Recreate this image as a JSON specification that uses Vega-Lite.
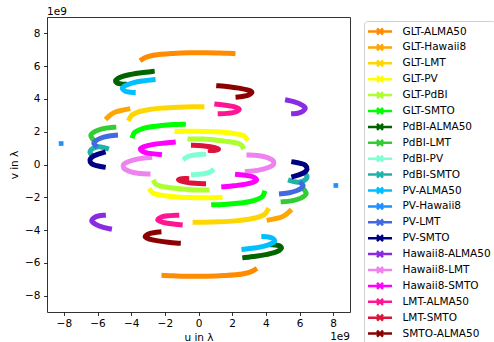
{
"$schema":"https://vega.github.io/schema/vega-lite/v6.json",
"width":303,"height":295,
"autosize":{"type":"none"},
"padding":{"left":47,"top":17,"right":144,"bottom":30},
"background":"white",
"config":{"font":"DejaVu Sans","view":{"stroke":"#333","strokeWidth":1},
 "axis":{"grid":false,"domain":false,"tickColor":"#000","tickSize":3.5,"tickWidth":0.8,"labelFontSize":10.5,"labelColor":"#000","titleFontSize":10.5,"titleFontWeight":"normal","titleColor":"#000","labelFont":"DejaVu Sans","titleFont":"DejaVu Sans","labelOverlap":false,"labelFlush":false}},
"datasets":{"uv":[
{"p":"GLT-ALMA50","s":"a","i":0,"u":-3.35,"v":6.42},{"p":"GLT-ALMA50","s":"a","i":1,"u":-3.1,"v":6.55},{"p":"GLT-ALMA50","s":"a","i":2,"u":-2.6,"v":6.68},{"p":"GLT-ALMA50","s":"a","i":3,"u":-1.5,"v":6.78},{"p":"GLT-ALMA50","s":"a","i":4,"u":-0.5,"v":6.82},{"p":"GLT-ALMA50","s":"a","i":5,"u":0.5,"v":6.82},{"p":"GLT-ALMA50","s":"a","i":6,"u":1.5,"v":6.79},{"p":"GLT-ALMA50","s":"a","i":7,"u":2.05,"v":6.77},
{"p":"GLT-ALMA50","s":"b","i":0,"u":3.35,"v":-6.42},{"p":"GLT-ALMA50","s":"b","i":1,"u":3.1,"v":-6.55},{"p":"GLT-ALMA50","s":"b","i":2,"u":2.6,"v":-6.68},{"p":"GLT-ALMA50","s":"b","i":3,"u":1.5,"v":-6.78},{"p":"GLT-ALMA50","s":"b","i":4,"u":0.5,"v":-6.82},{"p":"GLT-ALMA50","s":"b","i":5,"u":-0.5,"v":-6.82},{"p":"GLT-ALMA50","s":"b","i":6,"u":-1.5,"v":-6.79},{"p":"GLT-ALMA50","s":"b","i":7,"u":-2.05,"v":-6.77},
{"p":"GLT-Hawaii8","s":"a","i":0,"u":-5.42,"v":2.85},{"p":"GLT-Hawaii8","s":"a","i":1,"u":-5.2,"v":3.05},{"p":"GLT-Hawaii8","s":"a","i":2,"u":-4.9,"v":3.22},{"p":"GLT-Hawaii8","s":"a","i":3,"u":-4.5,"v":3.32},{"p":"GLT-Hawaii8","s":"a","i":4,"u":-4.2,"v":3.38},
{"p":"GLT-Hawaii8","s":"b","i":0,"u":5.42,"v":-2.85},{"p":"GLT-Hawaii8","s":"b","i":1,"u":5.2,"v":-3.05},{"p":"GLT-Hawaii8","s":"b","i":2,"u":4.9,"v":-3.22},{"p":"GLT-Hawaii8","s":"b","i":3,"u":4.5,"v":-3.32},{"p":"GLT-Hawaii8","s":"b","i":4,"u":4.2,"v":-3.38},
{"p":"GLT-LMT","s":"a","i":0,"u":-4.1,"v":2.8},{"p":"GLT-LMT","s":"a","i":1,"u":-3.95,"v":3.02},{"p":"GLT-LMT","s":"a","i":2,"u":-3.6,"v":3.2},{"p":"GLT-LMT","s":"a","i":3,"u":-3.0,"v":3.34},{"p":"GLT-LMT","s":"a","i":4,"u":-2.2,"v":3.44},{"p":"GLT-LMT","s":"a","i":5,"u":-1.2,"v":3.5},{"p":"GLT-LMT","s":"a","i":6,"u":-0.3,"v":3.52},{"p":"GLT-LMT","s":"a","i":7,"u":0.2,"v":3.52},
{"p":"GLT-LMT","s":"b","i":0,"u":4.1,"v":-2.8},{"p":"GLT-LMT","s":"b","i":1,"u":3.95,"v":-3.02},{"p":"GLT-LMT","s":"b","i":2,"u":3.6,"v":-3.2},{"p":"GLT-LMT","s":"b","i":3,"u":3.0,"v":-3.34},{"p":"GLT-LMT","s":"b","i":4,"u":2.2,"v":-3.44},{"p":"GLT-LMT","s":"b","i":5,"u":1.2,"v":-3.5},{"p":"GLT-LMT","s":"b","i":6,"u":0.3,"v":-3.52},{"p":"GLT-LMT","s":"b","i":7,"u":-0.2,"v":-3.52},
{"p":"GLT-PV","s":"a","i":0,"u":-1.28,"v":2.02},{"p":"GLT-PV","s":"a","i":1,"u":-0.5,"v":2.03},{"p":"GLT-PV","s":"a","i":2,"u":0.5,"v":2.02},{"p":"GLT-PV","s":"a","i":3,"u":1.3,"v":1.98},{"p":"GLT-PV","s":"a","i":4,"u":1.9,"v":1.92},{"p":"GLT-PV","s":"a","i":5,"u":2.4,"v":1.84},{"p":"GLT-PV","s":"a","i":6,"u":2.7,"v":1.74},{"p":"GLT-PV","s":"a","i":7,"u":2.85,"v":1.58},
{"p":"GLT-PV","s":"b","i":0,"u":1.28,"v":-2.02},{"p":"GLT-PV","s":"b","i":1,"u":0.5,"v":-2.03},{"p":"GLT-PV","s":"b","i":2,"u":-0.5,"v":-2.02},{"p":"GLT-PV","s":"b","i":3,"u":-1.3,"v":-1.98},{"p":"GLT-PV","s":"b","i":4,"u":-1.9,"v":-1.92},{"p":"GLT-PV","s":"b","i":5,"u":-2.4,"v":-1.84},{"p":"GLT-PV","s":"b","i":6,"u":-2.7,"v":-1.74},{"p":"GLT-PV","s":"b","i":7,"u":-2.85,"v":-1.58},
{"p":"GLT-PdBI","s":"a","i":0,"u":-0.5,"v":1.56},{"p":"GLT-PdBI","s":"a","i":1,"u":0.3,"v":1.55},{"p":"GLT-PdBI","s":"a","i":2,"u":1.1,"v":1.48},{"p":"GLT-PdBI","s":"a","i":3,"u":1.8,"v":1.4},{"p":"GLT-PdBI","s":"a","i":4,"u":2.3,"v":1.3},{"p":"GLT-PdBI","s":"a","i":5,"u":2.55,"v":1.18},{"p":"GLT-PdBI","s":"a","i":6,"u":2.62,"v":1.08},
{"p":"GLT-PdBI","s":"b","i":0,"u":0.5,"v":-1.56},{"p":"GLT-PdBI","s":"b","i":1,"u":-0.3,"v":-1.55},{"p":"GLT-PdBI","s":"b","i":2,"u":-1.1,"v":-1.48},{"p":"GLT-PdBI","s":"b","i":3,"u":-1.8,"v":-1.4},{"p":"GLT-PdBI","s":"b","i":4,"u":-2.3,"v":-1.3},{"p":"GLT-PdBI","s":"b","i":5,"u":-2.55,"v":-1.18},{"p":"GLT-PdBI","s":"b","i":6,"u":-2.62,"v":-1.08},
{"p":"GLT-SMTO","s":"a","i":0,"u":-3.9,"v":1.75},{"p":"GLT-SMTO","s":"a","i":1,"u":-3.8,"v":1.95},{"p":"GLT-SMTO","s":"a","i":2,"u":-3.5,"v":2.12},{"p":"GLT-SMTO","s":"a","i":3,"u":-3.0,"v":2.27},{"p":"GLT-SMTO","s":"a","i":4,"u":-2.2,"v":2.38},{"p":"GLT-SMTO","s":"a","i":5,"u":-1.5,"v":2.44},{"p":"GLT-SMTO","s":"a","i":6,"u":-0.9,"v":2.46},
{"p":"GLT-SMTO","s":"b","i":0,"u":3.9,"v":-1.75},{"p":"GLT-SMTO","s":"b","i":1,"u":3.8,"v":-1.95},{"p":"GLT-SMTO","s":"b","i":2,"u":3.5,"v":-2.12},{"p":"GLT-SMTO","s":"b","i":3,"u":3.0,"v":-2.27},{"p":"GLT-SMTO","s":"b","i":4,"u":2.2,"v":-2.38},{"p":"GLT-SMTO","s":"b","i":5,"u":1.5,"v":-2.44},{"p":"GLT-SMTO","s":"b","i":6,"u":0.9,"v":-2.46},
{"p":"PdBI-ALMA50","s":"a","i":0,"u":-2.75,"v":5.68},{"p":"PdBI-ALMA50","s":"a","i":1,"u":-3.4,"v":5.6},{"p":"PdBI-ALMA50","s":"a","i":2,"u":-4.0,"v":5.5},{"p":"PdBI-ALMA50","s":"a","i":3,"u":-4.5,"v":5.38},{"p":"PdBI-ALMA50","s":"a","i":4,"u":-4.8,"v":5.24},{"p":"PdBI-ALMA50","s":"a","i":5,"u":-4.93,"v":5.1},{"p":"PdBI-ALMA50","s":"a","i":6,"u":-4.85,"v":4.98},{"p":"PdBI-ALMA50","s":"a","i":7,"u":-4.6,"v":4.92},{"p":"PdBI-ALMA50","s":"a","i":8,"u":-4.4,"v":4.9},
{"p":"PdBI-ALMA50","s":"b","i":0,"u":2.75,"v":-5.68},{"p":"PdBI-ALMA50","s":"b","i":1,"u":3.4,"v":-5.6},{"p":"PdBI-ALMA50","s":"b","i":2,"u":4.0,"v":-5.5},{"p":"PdBI-ALMA50","s":"b","i":3,"u":4.5,"v":-5.38},{"p":"PdBI-ALMA50","s":"b","i":4,"u":4.8,"v":-5.24},{"p":"PdBI-ALMA50","s":"b","i":5,"u":4.93,"v":-5.1},{"p":"PdBI-ALMA50","s":"b","i":6,"u":4.85,"v":-4.98},{"p":"PdBI-ALMA50","s":"b","i":7,"u":4.6,"v":-4.92},{"p":"PdBI-ALMA50","s":"b","i":8,"u":4.4,"v":-4.9},
{"p":"PdBI-LMT","s":"a","i":0,"u":-5.03,"v":2.27},{"p":"PdBI-LMT","s":"a","i":1,"u":-5.5,"v":2.22},{"p":"PdBI-LMT","s":"a","i":2,"u":-5.9,"v":2.12},{"p":"PdBI-LMT","s":"a","i":3,"u":-6.25,"v":1.95},{"p":"PdBI-LMT","s":"a","i":4,"u":-6.4,"v":1.78},{"p":"PdBI-LMT","s":"a","i":5,"u":-6.32,"v":1.6},
{"p":"PdBI-LMT","s":"b","i":0,"u":5.03,"v":-2.27},{"p":"PdBI-LMT","s":"b","i":1,"u":5.5,"v":-2.22},{"p":"PdBI-LMT","s":"b","i":2,"u":5.9,"v":-2.12},{"p":"PdBI-LMT","s":"b","i":3,"u":6.25,"v":-1.95},{"p":"PdBI-LMT","s":"b","i":4,"u":6.4,"v":-1.78},{"p":"PdBI-LMT","s":"b","i":5,"u":6.32,"v":-1.6},
{"p":"PdBI-PV","s":"a","i":0,"u":-0.8,"v":0.38},{"p":"PdBI-PV","s":"a","i":1,"u":-0.6,"v":0.5},{"p":"PdBI-PV","s":"a","i":2,"u":-0.2,"v":0.58},{"p":"PdBI-PV","s":"a","i":3,"u":0.3,"v":0.62},
{"p":"PdBI-PV","s":"b","i":0,"u":0.8,"v":-0.38},{"p":"PdBI-PV","s":"b","i":1,"u":0.6,"v":-0.5},{"p":"PdBI-PV","s":"b","i":2,"u":0.2,"v":-0.58},{"p":"PdBI-PV","s":"b","i":3,"u":-0.3,"v":-0.62},
{"p":"PdBI-SMTO","s":"a","i":0,"u":-5.46,"v":0.98},{"p":"PdBI-SMTO","s":"a","i":1,"u":-5.8,"v":1.07},{"p":"PdBI-SMTO","s":"a","i":2,"u":-6.12,"v":1.05},{"p":"PdBI-SMTO","s":"a","i":3,"u":-6.38,"v":0.9},{"p":"PdBI-SMTO","s":"a","i":4,"u":-6.45,"v":0.75},{"p":"PdBI-SMTO","s":"a","i":5,"u":-6.35,"v":0.58},
{"p":"PdBI-SMTO","s":"b","i":0,"u":5.46,"v":-0.98},{"p":"PdBI-SMTO","s":"b","i":1,"u":5.8,"v":-1.07},{"p":"PdBI-SMTO","s":"b","i":2,"u":6.12,"v":-1.05},{"p":"PdBI-SMTO","s":"b","i":3,"u":6.38,"v":-0.9},{"p":"PdBI-SMTO","s":"b","i":4,"u":6.45,"v":-0.75},{"p":"PdBI-SMTO","s":"b","i":5,"u":6.35,"v":-0.58},
{"p":"PV-ALMA50","s":"a","i":0,"u":-2.7,"v":5.17},{"p":"PV-ALMA50","s":"a","i":1,"u":-3.3,"v":5.1},{"p":"PV-ALMA50","s":"a","i":2,"u":-3.85,"v":5.0},{"p":"PV-ALMA50","s":"a","i":3,"u":-4.3,"v":4.84},{"p":"PV-ALMA50","s":"a","i":4,"u":-4.53,"v":4.66},{"p":"PV-ALMA50","s":"a","i":5,"u":-4.4,"v":4.5},{"p":"PV-ALMA50","s":"a","i":6,"u":-4.15,"v":4.42},{"p":"PV-ALMA50","s":"a","i":7,"u":-3.88,"v":4.4},
{"p":"PV-ALMA50","s":"b","i":0,"u":2.7,"v":-5.17},{"p":"PV-ALMA50","s":"b","i":1,"u":3.3,"v":-5.1},{"p":"PV-ALMA50","s":"b","i":2,"u":3.85,"v":-5.0},{"p":"PV-ALMA50","s":"b","i":3,"u":4.3,"v":-4.84},{"p":"PV-ALMA50","s":"b","i":4,"u":4.53,"v":-4.66},{"p":"PV-ALMA50","s":"b","i":5,"u":4.4,"v":-4.5},{"p":"PV-ALMA50","s":"b","i":6,"u":4.15,"v":-4.42},{"p":"PV-ALMA50","s":"b","i":7,"u":3.88,"v":-4.4},
{"p":"PV-Hawaii8","s":"a","i":0,"u":-8.16,"v":1.28},
{"p":"PV-Hawaii8","s":"b","i":0,"u":8.16,"v":-1.28},
{"p":"PV-LMT","s":"a","i":0,"u":-4.93,"v":1.78},{"p":"PV-LMT","s":"a","i":1,"u":-5.4,"v":1.72},{"p":"PV-LMT","s":"a","i":2,"u":-5.82,"v":1.6},{"p":"PV-LMT","s":"a","i":3,"u":-6.1,"v":1.45},{"p":"PV-LMT","s":"a","i":4,"u":-6.22,"v":1.3},{"p":"PV-LMT","s":"a","i":5,"u":-6.12,"v":1.16},
{"p":"PV-LMT","s":"b","i":0,"u":4.93,"v":-1.78},{"p":"PV-LMT","s":"b","i":1,"u":5.4,"v":-1.72},{"p":"PV-LMT","s":"b","i":2,"u":5.82,"v":-1.6},{"p":"PV-LMT","s":"b","i":3,"u":6.1,"v":-1.45},{"p":"PV-LMT","s":"b","i":4,"u":6.22,"v":-1.3},{"p":"PV-LMT","s":"b","i":5,"u":6.12,"v":-1.16},
{"p":"PV-SMTO","s":"a","i":0,"u":-5.66,"v":0.73},{"p":"PV-SMTO","s":"a","i":1,"u":-6.0,"v":0.62},{"p":"PV-SMTO","s":"a","i":2,"u":-6.3,"v":0.47},{"p":"PV-SMTO","s":"a","i":3,"u":-6.45,"v":0.28},{"p":"PV-SMTO","s":"a","i":4,"u":-6.35,"v":0.05},{"p":"PV-SMTO","s":"a","i":5,"u":-6.05,"v":-0.07},{"p":"PV-SMTO","s":"a","i":6,"u":-5.66,"v":-0.15},
{"p":"PV-SMTO","s":"b","i":0,"u":5.66,"v":-0.73},{"p":"PV-SMTO","s":"b","i":1,"u":6.0,"v":-0.62},{"p":"PV-SMTO","s":"b","i":2,"u":6.3,"v":-0.47},{"p":"PV-SMTO","s":"b","i":3,"u":6.45,"v":-0.28},{"p":"PV-SMTO","s":"b","i":4,"u":6.35,"v":-0.05},{"p":"PV-SMTO","s":"b","i":5,"u":6.05,"v":0.07},{"p":"PV-SMTO","s":"b","i":6,"u":5.66,"v":0.15},
{"p":"Hawaii8-ALMA50","s":"a","i":0,"u":5.29,"v":3.92},{"p":"Hawaii8-ALMA50","s":"a","i":1,"u":5.7,"v":3.82},{"p":"Hawaii8-ALMA50","s":"a","i":2,"u":6.1,"v":3.65},{"p":"Hawaii8-ALMA50","s":"a","i":3,"u":6.34,"v":3.44},{"p":"Hawaii8-ALMA50","s":"a","i":4,"u":6.2,"v":3.25},{"p":"Hawaii8-ALMA50","s":"a","i":5,"u":5.9,"v":3.13},{"p":"Hawaii8-ALMA50","s":"a","i":6,"u":5.65,"v":3.1},
{"p":"Hawaii8-ALMA50","s":"b","i":0,"u":-5.29,"v":-3.92},{"p":"Hawaii8-ALMA50","s":"b","i":1,"u":-5.7,"v":-3.82},{"p":"Hawaii8-ALMA50","s":"b","i":2,"u":-6.1,"v":-3.65},{"p":"Hawaii8-ALMA50","s":"b","i":3,"u":-6.34,"v":-3.44},{"p":"Hawaii8-ALMA50","s":"b","i":4,"u":-6.2,"v":-3.25},{"p":"Hawaii8-ALMA50","s":"b","i":5,"u":-5.9,"v":-3.13},{"p":"Hawaii8-ALMA50","s":"b","i":6,"u":-5.65,"v":-3.1},
{"p":"Hawaii8-LMT","s":"a","i":0,"u":-2.9,"v":0.43},{"p":"Hawaii8-LMT","s":"a","i":1,"u":-3.5,"v":0.36},{"p":"Hawaii8-LMT","s":"a","i":2,"u":-4.1,"v":0.2},{"p":"Hawaii8-LMT","s":"a","i":3,"u":-4.45,"v":0.0},{"p":"Hawaii8-LMT","s":"a","i":4,"u":-4.45,"v":-0.2},{"p":"Hawaii8-LMT","s":"a","i":5,"u":-4.1,"v":-0.42},{"p":"Hawaii8-LMT","s":"a","i":6,"u":-3.5,"v":-0.55},{"p":"Hawaii8-LMT","s":"a","i":7,"u":-3.0,"v":-0.58},
{"p":"Hawaii8-LMT","s":"b","i":0,"u":2.9,"v":-0.43},{"p":"Hawaii8-LMT","s":"b","i":1,"u":3.5,"v":-0.36},{"p":"Hawaii8-LMT","s":"b","i":2,"u":4.1,"v":-0.2},{"p":"Hawaii8-LMT","s":"b","i":3,"u":4.45,"v":0.0},{"p":"Hawaii8-LMT","s":"b","i":4,"u":4.45,"v":0.2},{"p":"Hawaii8-LMT","s":"b","i":5,"u":4.1,"v":0.42},{"p":"Hawaii8-LMT","s":"b","i":6,"u":3.5,"v":0.55},{"p":"Hawaii8-LMT","s":"b","i":7,"u":3.0,"v":0.58},
{"p":"Hawaii8-SMTO","s":"a","i":0,"u":-1.5,"v":1.36},{"p":"Hawaii8-SMTO","s":"a","i":1,"u":-2.1,"v":1.3},{"p":"Hawaii8-SMTO","s":"a","i":2,"u":-2.7,"v":1.22},{"p":"Hawaii8-SMTO","s":"a","i":3,"u":-3.2,"v":1.1},{"p":"Hawaii8-SMTO","s":"a","i":4,"u":-3.45,"v":0.95},{"p":"Hawaii8-SMTO","s":"a","i":5,"u":-3.3,"v":0.78},{"p":"Hawaii8-SMTO","s":"a","i":6,"u":-2.9,"v":0.68},{"p":"Hawaii8-SMTO","s":"a","i":7,"u":-2.32,"v":0.61},
{"p":"Hawaii8-SMTO","s":"b","i":0,"u":1.5,"v":-1.36},{"p":"Hawaii8-SMTO","s":"b","i":1,"u":2.1,"v":-1.3},{"p":"Hawaii8-SMTO","s":"b","i":2,"u":2.7,"v":-1.22},{"p":"Hawaii8-SMTO","s":"b","i":3,"u":3.2,"v":-1.1},{"p":"Hawaii8-SMTO","s":"b","i":4,"u":3.45,"v":-0.95},{"p":"Hawaii8-SMTO","s":"b","i":5,"u":3.3,"v":-0.78},{"p":"Hawaii8-SMTO","s":"b","i":6,"u":2.9,"v":-0.68},{"p":"Hawaii8-SMTO","s":"b","i":7,"u":2.32,"v":-0.61},
{"p":"LMT-ALMA50","s":"a","i":0,"u":1.09,"v":3.68},{"p":"LMT-ALMA50","s":"a","i":1,"u":1.6,"v":3.62},{"p":"LMT-ALMA50","s":"a","i":2,"u":2.1,"v":3.53},{"p":"LMT-ALMA50","s":"a","i":3,"u":2.42,"v":3.38},{"p":"LMT-ALMA50","s":"a","i":4,"u":2.2,"v":3.2},{"p":"LMT-ALMA50","s":"a","i":5,"u":1.7,"v":3.12},{"p":"LMT-ALMA50","s":"a","i":6,"u":1.29,"v":3.1},
{"p":"LMT-ALMA50","s":"b","i":0,"u":-1.09,"v":-3.68},{"p":"LMT-ALMA50","s":"b","i":1,"u":-1.6,"v":-3.62},{"p":"LMT-ALMA50","s":"b","i":2,"u":-2.1,"v":-3.53},{"p":"LMT-ALMA50","s":"b","i":3,"u":-2.42,"v":-3.38},{"p":"LMT-ALMA50","s":"b","i":4,"u":-2.2,"v":-3.2},{"p":"LMT-ALMA50","s":"b","i":5,"u":-1.7,"v":-3.12},{"p":"LMT-ALMA50","s":"b","i":6,"u":-1.29,"v":-3.1},
{"p":"LMT-SMTO","s":"a","i":0,"u":-0.3,"v":1.17},{"p":"LMT-SMTO","s":"a","i":1,"u":0.2,"v":1.15},{"p":"LMT-SMTO","s":"a","i":2,"u":0.7,"v":1.08},{"p":"LMT-SMTO","s":"a","i":3,"u":1.05,"v":1.0},{"p":"LMT-SMTO","s":"a","i":4,"u":1.19,"v":0.93},{"p":"LMT-SMTO","s":"a","i":5,"u":1.0,"v":0.87},{"p":"LMT-SMTO","s":"a","i":6,"u":0.7,"v":0.86},
{"p":"LMT-SMTO","s":"b","i":0,"u":0.3,"v":-1.17},{"p":"LMT-SMTO","s":"b","i":1,"u":-0.2,"v":-1.15},{"p":"LMT-SMTO","s":"b","i":2,"u":-0.7,"v":-1.08},{"p":"LMT-SMTO","s":"b","i":3,"u":-1.05,"v":-1.0},{"p":"LMT-SMTO","s":"b","i":4,"u":-1.19,"v":-0.93},{"p":"LMT-SMTO","s":"b","i":5,"u":-1.0,"v":-0.87},{"p":"LMT-SMTO","s":"b","i":6,"u":-0.7,"v":-0.86},
{"p":"SMTO-ALMA50","s":"a","i":0,"u":1.2,"v":4.8},{"p":"SMTO-ALMA50","s":"a","i":1,"u":1.8,"v":4.75},{"p":"SMTO-ALMA50","s":"a","i":2,"u":2.4,"v":4.66},{"p":"SMTO-ALMA50","s":"a","i":3,"u":2.9,"v":4.55},{"p":"SMTO-ALMA50","s":"a","i":4,"u":3.17,"v":4.42},{"p":"SMTO-ALMA50","s":"a","i":5,"u":3.0,"v":4.25},{"p":"SMTO-ALMA50","s":"a","i":6,"u":2.6,"v":4.15},{"p":"SMTO-ALMA50","s":"a","i":7,"u":2.35,"v":4.12},
{"p":"SMTO-ALMA50","s":"b","i":0,"u":-1.2,"v":-4.8},{"p":"SMTO-ALMA50","s":"b","i":1,"u":-1.8,"v":-4.75},{"p":"SMTO-ALMA50","s":"b","i":2,"u":-2.4,"v":-4.66},{"p":"SMTO-ALMA50","s":"b","i":3,"u":-2.9,"v":-4.55},{"p":"SMTO-ALMA50","s":"b","i":4,"u":-3.17,"v":-4.42},{"p":"SMTO-ALMA50","s":"b","i":5,"u":-3.0,"v":-4.25},{"p":"SMTO-ALMA50","s":"b","i":6,"u":-2.6,"v":-4.15},{"p":"SMTO-ALMA50","s":"b","i":7,"u":-2.35,"v":-4.12}
]},
"layer":[
{"data":{"name":"uv"},"transform":[{"filter":"datum.p !== 'PV-Hawaii8'"}],
 "mark":{"type":"line","strokeWidth":5,"interpolate":"catmull-rom","strokeCap":"square","strokeJoin":"round"},
 "encoding":{
  "x":{"field":"u","type":"quantitative","scale":{"domain":[-9,9],"nice":false,"zero":false},"axis":{"values":[-8,-6,-4,-2,0,2,4,6,8],"tickCount":9,"labelOverlap":false,"title":"u in λ","labelExpr":"replace(datum.label,'-','−')","labelPadding":2.5,"titlePadding":4}},
  "y":{"field":"v","type":"quantitative","scale":{"domain":[-9,9],"nice":false,"zero":false},"axis":{"values":[-8,-6,-4,-2,0,2,4,6,8],"tickCount":9,"labelOverlap":false,"title":"v in λ","labelExpr":"replace(datum.label,'-','−')","labelPadding":3.5,"titlePadding":5}},
  "color":{"field":"p","type":"nominal","scale":{"domain":["GLT-ALMA50","GLT-Hawaii8","GLT-LMT","GLT-PV","GLT-PdBI","GLT-SMTO","PdBI-ALMA50","PdBI-LMT","PdBI-PV","PdBI-SMTO","PV-ALMA50","PV-Hawaii8","PV-LMT","PV-SMTO","Hawaii8-ALMA50","Hawaii8-LMT","Hawaii8-SMTO","LMT-ALMA50","LMT-SMTO","SMTO-ALMA50"],
   "range":["#ff8c00","#ffa500","#ffd700","#ffff00","#adff2f","#00ff00","#006400","#32cd32","#7fffd4","#20b2aa","#00bfff","#1e90ff","#4169e1","#000080","#8a2be2","#ee82ee","#ff00ff","#ff1493","#dc143c","#8b0000"]},
   "legend":{"title":null,"orient":"none","legendX":317,"legendY":4,"symbolType":"M-2.4,0H2.4M-0.6,-0.6L0.6,0.6M-0.6,0.6L0.6,-0.6","symbolSize":100,"symbolStrokeWidth":2.5,"symbolOffset":5.5,"labelOffset":16,"labelFontSize":10.5,"labelFont":"DejaVu Sans","labelColor":"#000","rowPadding":-1.1,"padding":4,"strokeColor":"#d0d0d0","fillColor":"#ffffff","cornerRadius":3,"labelLimit":300}},
  "detail":{"field":"s"},
  "order":{"field":"i","type":"quantitative"}}},
{"data":{"name":"uv"},"transform":[{"filter":"datum.p === 'PV-Hawaii8'"}],
 "mark":{"type":"point","shape":"square","filled":true,"size":22,"opacity":1},
 "encoding":{"x":{"field":"u","type":"quantitative"},"y":{"field":"v","type":"quantitative"},"color":{"field":"p","type":"nominal"}}},
{"data":{"values":[{"t":"1e9"}]},
 "mark":{"type":"text","align":"left","baseline":"alphabetic","dy":-2,"fontSize":10.5,"color":"#000","font":"DejaVu Sans"},
 "encoding":{"x":{"datum":-9},"y":{"datum":9},"text":{"field":"t"}}},
{"data":{"values":[{"t":"1e9"}]},
 "mark":{"type":"text","align":"right","baseline":"middle","dy":25,"fontSize":10.5,"color":"#000","font":"DejaVu Sans"},
 "encoding":{"x":{"datum":9},"y":{"datum":-9},"text":{"field":"t"}}}
]
}
